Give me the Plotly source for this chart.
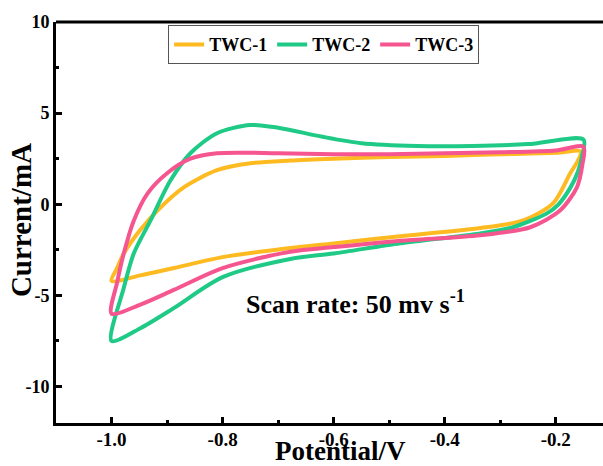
import plotly.graph_objects as go

# TWC-1 (anodic then cathodic branch)
twc1_v = [-1.0, -0.99, -0.978, -0.948, -0.917, -0.87, -0.81, -0.75, -0.678, -0.6, -0.5, -0.4, -0.3, -0.2, -0.155,
          -0.16, -0.174, -0.205, -0.26, -0.336, -0.48, -0.6, -0.678, -0.8, -0.888, -0.948, -1.0]
twc1_i = [-4.2, -3.5, -2.7, -1.4, -0.33, 0.93, 1.87, 2.25, 2.4, 2.5, 2.6, 2.65, 2.75, 2.82, 2.9,
          2.4, 1.7, 0.05, -0.9, -1.3, -1.75, -2.15, -2.4, -2.9, -3.5, -3.9, -4.2]

twc2_v = [-1.0, -0.978, -0.96, -0.93, -0.894, -0.858, -0.81, -0.75, -0.70, -0.62, -0.55, -0.45, -0.35, -0.25, -0.15,
          -0.153, -0.16, -0.174, -0.195, -0.216, -0.277, -0.336, -0.48, -0.6, -0.678, -0.8, -0.888, -0.948, -1.0]
twc2_i = [-7.5, -4.6, -2.7, -0.9, 1.3, 2.8, 3.9, 4.35, 4.2, 3.7, 3.35, 3.2, 3.2, 3.3, 3.55,
          2.6, 1.8, 0.9, 0.0, -0.5, -1.26, -1.6, -2.14, -2.7, -3.0, -4.0, -5.7, -6.8, -7.5]

twc3_v = [-1.0, -0.99, -0.978, -0.96, -0.935, -0.9, -0.858, -0.81, -0.7, -0.6, -0.5, -0.4, -0.3, -0.2, -0.15,
          -0.152, -0.162, -0.192, -0.246, -0.336, -0.48, -0.6, -0.678, -0.8, -0.888, -0.948, -1.0]
twc3_i = [-6.0, -4.3, -2.7, -0.9, 0.6, 1.7, 2.5, 2.8, 2.8, 2.75, 2.75, 2.8, 2.85, 2.95, 3.15,
          2.2, 0.93, -0.33, -1.26, -1.7, -2.0, -2.35, -2.6, -3.5, -4.7, -5.5, -6.0]

series_names = ["TWC-1", "TWC-2", "TWC-3"]
series_colors = ["#FDBA21", "#1FC986", "#F5568F"]

x_tickvals = [-1.0, -0.8, -0.6, -0.4, -0.2]
x_ticktext = ["-1.0", "-0.8", "-0.6", "-0.4", "-0.2"]
y_tickvals = [-10, -5, 0, 5, 10]
y_ticktext = ["-10", "-5", "0", "5", "10"]

FONT = "Liberation Serif, Times New Roman, serif"

fig = go.Figure()
for name, color, xs, ys in zip(series_names, series_colors,
                               [twc1_v, twc2_v, twc3_v], [twc1_i, twc2_i, twc3_i]):
    fig.add_trace(go.Scatter(x=xs, y=ys, mode="lines", name="<b>" + name + "</b>",
                             line=dict(color=color, width=4, shape="spline", smoothing=0.8)))

fig.update_layout(
    width=603, height=466,
    margin=dict(l=56, r=0, t=22, b=43),
    paper_bgcolor="white", plot_bgcolor="white",
    font=dict(family=FONT, color="black", size=16),
    legend=dict(orientation="h", x=0.205, y=0.992, xanchor="left", yanchor="top",
                bordercolor="#555555", borderwidth=1, bgcolor="white",
                font=dict(family=FONT, size=18, color="black"),
                itemwidth=30, tracegroupgap=0),
    xaxis=dict(range=[-1.1, -0.115], showgrid=False, zeroline=False, automargin=False,
               showline=True, linecolor="black", linewidth=3,
               ticks="inside", ticklen=6, tickwidth=2.5, tickcolor="black",
               ticklabelstandoff=-3,
               tickvals=x_tickvals, ticktext=["<b>" + t + "</b>" for t in x_ticktext],
               tickfont=dict(family=FONT, size=19),
               minor=dict(tickvals=[-0.9, -0.7, -0.5, -0.3], ticks="inside", ticklen=3,
                          tickwidth=2.5, tickcolor="black")),
    yaxis=dict(range=[-12, 10], showgrid=False, zeroline=False, automargin=False,
               showline=True, linecolor="black", linewidth=3,
               ticks="inside", ticklen=6, tickwidth=2.5, tickcolor="black",
               tickvals=y_tickvals, ticktext=["<b>" + t + "</b>" for t in y_ticktext],
               tickfont=dict(family=FONT, size=18),
               minor=dict(tickvals=[-7.5, -2.5, 2.5, 7.5], ticks="inside", ticklen=3,
                          tickwidth=2.5, tickcolor="black")),
    shapes=[dict(type="line", xref="paper", yref="paper", x0=0, x1=1, y0=1, y1=1,
                 line=dict(color="black", width=3))],
    annotations=[
        dict(x=-0.56, y=-5.4, xref="x", yref="y", showarrow=False,
             text="<b>Scan rate: 50 mv s<sup>-1</sup></b>",
             font=dict(family=FONT, size=26, color="black")),
        dict(x=0.521, y=-0.069, xref="paper", yref="paper", showarrow=False,
             xanchor="center", yanchor="middle",
             text="<b>Potential/V</b>", font=dict(family=FONT, size=27, color="black")),
        dict(x=-0.064, y=0.506, xref="paper", yref="paper", showarrow=False,
             xanchor="center", yanchor="middle", textangle=-90,
             text="<b>Current/mA</b>", font=dict(family=FONT, size=29, color="black")),
    ],
)

fig.write_html("out.html")
